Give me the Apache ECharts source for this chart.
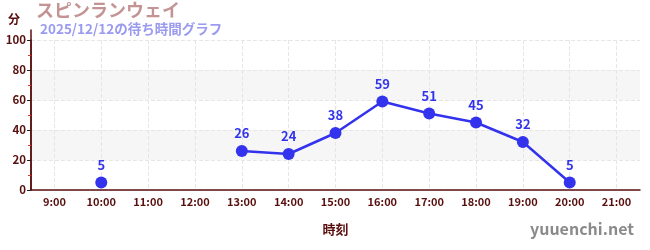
<!DOCTYPE html>
<html><head><meta charset="utf-8">
<script src="https://cdn.jsdelivr.net/npm/echarts@6/dist/echarts.min.js"></script>
<style>html,body{margin:0;padding:0;background:#fff}#c{width:650px;height:250px}</style>
</head><body><div id="c"></div>
<script>
const categories = ['9:00','10:00','11:00','12:00','13:00','14:00','15:00','16:00','17:00','18:00','19:00','20:00','21:00'];
const waitTimes = [null,5,null,null,26,24,38,59,51,45,32,5,null];
const yTicks = [0,20,40,60,80,100];
const titleText = 'スピンランウェイ';
const subText = '2025/12/12の待ち時間グラフ';
const unitText = '分';
const xName = '時刻';
const siteText = 'yuuenchi.net';

const FONT = '"Noto Sans CJK JP", "Noto Sans", sans-serif';
const AX = '#5a0f0f';
const chart = echarts.init(document.getElementById('c'), null, {renderer:'canvas'});
chart.setOption({
  animation:false,
  textStyle:{fontFamily:FONT},
  graphic:[
    {type:'text',left:8,top:13,style:{text:unitText,fill:AX,font:'bold 12px '+FONT}},
    {type:'text',left:36,top:1,style:{text:titleText,fill:'#c49494',font:'bold 18px '+FONT}},
    {type:'text',left:40,top:22,style:{text:subText,fill:'#9a9af0',font:'bold 13.5px '+FONT}},
    {type:'text',right:16,top:221,style:{text:siteText,fill:'#8a8a8a',font:'bold 16px '+FONT}}
  ],
  grid:[
    {left:31,right:10,top:40,bottom:60,containLabel:false},
    {left:31,right:10,top:30,bottom:60,containLabel:false}
  ],
  xAxis:[
    {type:'category',gridIndex:0,data:categories,boundaryGap:true,
     name:xName,nameLocation:'middle',nameGap:33,
     nameTextStyle:{color:AX,fontWeight:'bold',fontSize:13,fontFamily:FONT},
     axisLine:{lineStyle:{color:AX,width:1.5}},
     axisTick:{alignWithLabel:true,lineStyle:{color:'#888'},length:4},
     axisLabel:{color:AX,fontSize:11,fontWeight:'bold',margin:6,interval:0,fontFamily:FONT},
     splitLine:{show:true,alignWithLabel:true,interval:0,lineStyle:{color:'#e6e6e6',type:'dashed'}}},
    {type:'category',gridIndex:1,data:categories,show:false}
  ],
  yAxis:[
    {type:'value',gridIndex:0,min:0,max:100,interval:20,
     axisLine:{show:true,lineStyle:{color:AX,width:1.5}},
     axisTick:{show:true,length:4,lineStyle:{color:'#222'}},
     minorTick:{show:true,splitNumber:2,length:3,lineStyle:{color:'#e03030'}},
     axisLabel:{color:AX,fontSize:11.5,fontWeight:'bold',margin:5,fontFamily:FONT},
     splitLine:{show:true,lineStyle:{color:'#e6e6e6',type:'dashed'}},
     splitArea:{show:true,areaStyle:{color:['rgba(255,255,255,0)','#f6f6f6']}}},
    {type:'value',gridIndex:1,min:0,max:100,
     axisLine:{show:true,lineStyle:{color:AX,width:1.5}},
     axisTick:{show:false},axisLabel:{show:false},splitLine:{show:false}}
  ],
  series:[{
    type:'line',xAxisIndex:0,yAxisIndex:0,data:waitTimes,connectNulls:false,
    symbol:'circle',symbolSize:12,
    lineStyle:{color:'#3333ee',width:2.5},
    itemStyle:{color:'#3333ee'},
    label:{show:true,position:'top',color:'#3333ee',fontWeight:'bold',fontSize:13,fontFamily:FONT,distance:5}
  }]
});
</script></body></html>
